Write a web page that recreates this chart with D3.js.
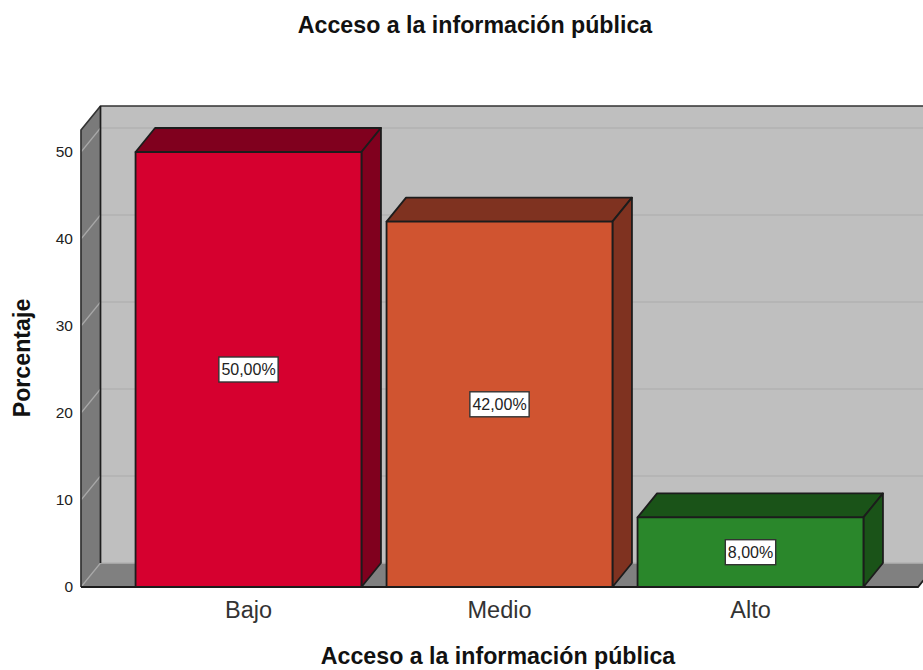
<!DOCTYPE html>
<html lang="es">
<head>
    <meta charset="UTF-8">
    <title>Acceso a la información pública</title>
    <script src="https://d3js.org/d3.v7.min.js"></script>
    <style>
        body { margin: 0; background: #fff; }
        svg { display: block; font-family: "Liberation Sans", Arial, sans-serif; }
    </style>
</head>
<body>
<script>
    // datos
    var categories = ['Bajo', 'Medio', 'Alto'];
    var values = [50, 42, 8];
    var valueLabels = ['50,00%', '42,00%', '8,00%'];
    var yTicks = [0, 10, 20, 30, 40, 50];
    var frontColors = ['#d6002f', '#d05430', '#2a872b'];
    var sideColors = ['#80001e', '#7f3220', '#1a5318'];

    var width = 923;
    var height = 670;
    var depthX = 19.5; // profundidad 3D
    var depthY = -24;
    var left = 81, right = 918, bottom = 587, wallTop = 130;

    var svg = d3.select('body').append('svg').attr('width', width).attr('height', height);

    var y = d3.scaleLinear().domain([0, 50]).range([bottom, 152]);
    var x = d3.scaleBand().domain(categories).range([123, 876]).paddingInner(0.1).paddingOuter(0.05);
    var line = '#1c1c1c';

    function poly(points, fill, stroke, sw) {
        return svg.append('polygon')
            .attr('points', points.map(p => p.join(',')).join(' '))
            .attr('fill', fill)
            .attr('stroke', stroke || 'none')
            .attr('stroke-width', sw || 0)
            .attr('stroke-linejoin', 'round');
    }

    // pared de fondo, lateral y suelo
    poly([[left + depthX, wallTop + depthY], [right + depthX, wallTop + depthY], [right + depthX, bottom + depthY], [left + depthX, bottom + depthY]], '#bfbfbf');
    poly([[left, wallTop], [left + depthX, wallTop + depthY], [left + depthX, bottom + depthY], [left, bottom]], '#7a7a7a');
    poly([[left, bottom], [left + depthX, bottom + depthY], [right + depthX, bottom + depthY], [right, bottom]], '#808080');

    // rejilla
    svg.append('g').selectAll('path').data(yTicks).join('path')
        .attr('d', d => 'M' + left + ',' + y(d) + 'L' + (left + depthX) + ',' + (y(d) + depthY))
        .attr('fill', 'none')
        .attr('stroke', '#a8a8a8')
        .attr('stroke-width', 1.2);
    svg.append('g').selectAll('path').data(yTicks).join('path')
        .attr('d', d => 'M' + (left + depthX) + ',' + (y(d) + depthY) + 'H' + (right + depthX))
        .attr('fill', 'none')
        .attr('stroke', '#b2b2b2')
        .attr('stroke-width', 1.5);

    // bordes
    svg.append('path')
        .attr('d', 'M' + left + ',' + bottom + 'V' + wallTop + 'L' + (left + depthX) + ',' + (wallTop + depthY) + 'H' + (right + depthX))
        .attr('fill', 'none').attr('stroke', '#333').attr('stroke-width', 1.7);
    svg.append('path')
        .attr('d', 'M' + (left + depthX) + ',' + (wallTop + depthY) + 'V' + (bottom + depthY))
        .attr('stroke', line).attr('stroke-width', 1.7);
    svg.append('path')
        .attr('d', 'M' + left + ',' + bottom + 'H' + right + 'L' + (right + depthX) + ',' + (bottom + depthY))
        .attr('fill', 'none').attr('stroke', line).attr('stroke-width', 1.8);

    // barras
    categories.forEach(function (c, i) {
        var x0 = x(c), x1 = x0 + x.bandwidth(), y0 = y(values[i]);
        poly([[x0, y0], [x0 + depthX, y0 + depthY], [x1 + depthX, y0 + depthY], [x1, y0]], sideColors[i], line, 1.8);
        poly([[x1, y0], [x1 + depthX, y0 + depthY], [x1 + depthX, bottom + depthY], [x1, bottom]], sideColors[i], line, 1.8);
        poly([[x0, y0], [x1, y0], [x1, bottom], [x0, bottom]], frontColors[i], line, 1.8);
    });

    // etiquetas de valor
    categories.forEach(function (c, i) {
        var cx = x(c) + x.bandwidth() / 2;
        var cy = (y(values[i]) + bottom) / 2;
        var g = svg.append('g').attr('transform', 'translate(' + cx + ',' + cy + ')');
        var box = g.append('rect');
        var t = g.append('text')
            .attr('text-anchor', 'middle')
            .attr('dy', '0.35em')
            .attr('font-size', 16)
            .attr('fill', '#222')
            .text(valueLabels[i]);
        var w = t.node().getComputedTextLength() + 5;
        box.attr('x', -w / 2).attr('y', -12.5).attr('width', w).attr('height', 25)
            .attr('fill', '#fff').attr('stroke', '#333').attr('stroke-width', 1.4);
    });

    // ejes
    var yAxis = svg.append('g')
        .attr('transform', 'translate(' + left + ',0)')
        .call(d3.axisLeft(y).tickValues(yTicks).tickSize(0).tickPadding(8));
    yAxis.select('.domain').remove();
    yAxis.selectAll('text').attr('font-size', 15.5).attr('font-family', 'inherit').attr('fill', '#222');

    var xAxis = svg.append('g')
        .attr('transform', 'translate(0,' + bottom + ')')
        .call(d3.axisBottom(x).tickSize(0).tickPadding(14));
    xAxis.select('.domain').remove();
    xAxis.selectAll('text').attr('font-size', 23.5).attr('font-family', 'inherit').attr('fill', '#333');

    // titulos
    svg.append('text').attr('x', 475).attr('y', 33).attr('text-anchor', 'middle')
        .attr('font-size', 23.2).attr('font-weight', 'bold').attr('fill', '#111')
        .text('Acceso a la información pública');
    svg.append('text').attr('x', 498).attr('y', 664).attr('text-anchor', 'middle')
        .attr('font-size', 23.2).attr('font-weight', 'bold').attr('fill', '#111')
        .text('Acceso a la información pública');
    svg.append('text').attr('transform', 'translate(30,358) rotate(-90)').attr('text-anchor', 'middle')
        .attr('font-size', 23.2).attr('font-weight', 'bold').attr('fill', '#111')
        .text('Porcentaje');
</script>
</body>
</html>
